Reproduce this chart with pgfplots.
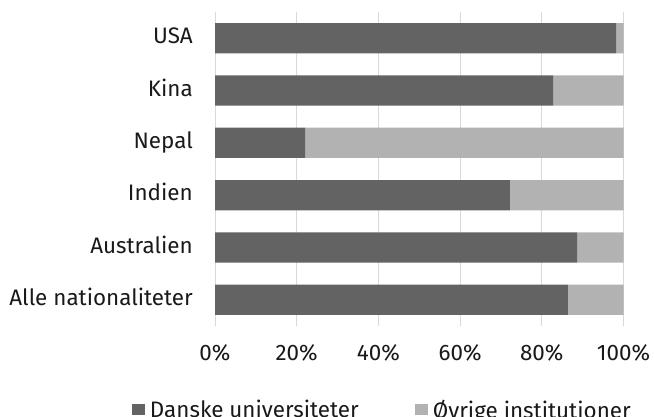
\documentclass[border=0pt]{standalone}
\usepackage{fontspec}
\setmainfont{Fira Sans}
\usepackage{pgfplots}
\pgfplotsset{compat=1.18}
\definecolor{darkbar}{HTML}{636363}
\definecolor{lightbar}{HTML}{B2B2B2}
\definecolor{gridc}{HTML}{D9D9D9}
\begin{document}
\begin{tikzpicture}[x=1bp,y=1bp]
\useasboundingbox (0,0) rectangle (654,416);
\begin{axis}[
  at={(215bp,90bp)}, anchor=south west,
  scale only axis, width=408.5bp, height=314bp,
  xbar stacked, bar width=30.3bp,
  xmin=0, xmax=100, ymin=-0.5, ymax=5.5,
  ytick={0,1,2,3,4,5},
  yticklabels={Alle nationaliteter, Australien, Indien, Nepal, Kina, USA},
  xtick={0,20,40,60,80,100},
  xticklabels={0\%,20\%,40\%,60\%,80\%,100\%},
  axis line style={draw=none}, major tick length=0pt,
  xmajorgrids, grid style={gridc, line width=1bp},
  tick label style={font=\fontsize{22.5}{26}\selectfont, text=black!90, inner sep=0pt},
  /pgf/number format/assume math mode=true,
  xticklabel style={anchor=base, yshift=-34.7bp},
  yticklabel style={anchor=base east, xshift=-22bp, yshift=-5.6bp},
  legend style={at={(-0.2032,-0.299)}, anchor=south west, draw=none, fill=none,
    legend columns=2, font=\fontsize{22.5}{26}\selectfont, text=black!90,
    nodes={inner sep=0pt},
    /tikz/every even column/.append style={column sep=56bp},
    inner sep=0pt, outer sep=0pt},
  legend image code/.code={\fill[#1,draw=none] (0bp,-5bp) rectangle (13bp,6bp); \path (18bp,0bp);},
]
\addplot[fill=darkbar, draw=none] coordinates {(86.4,0) (88.7,1) (72.2,2) (22.1,3) (82.8,4) (98.2,5)};
\addplot[fill=lightbar, draw=none] coordinates {(13.6,0) (11.3,1) (27.8,2) (77.9,3) (17.2,4) (1.8,5)};
\legend{Danske universiteter, Øvrige institutioner}
\end{axis}
\end{tikzpicture}
\end{document}
